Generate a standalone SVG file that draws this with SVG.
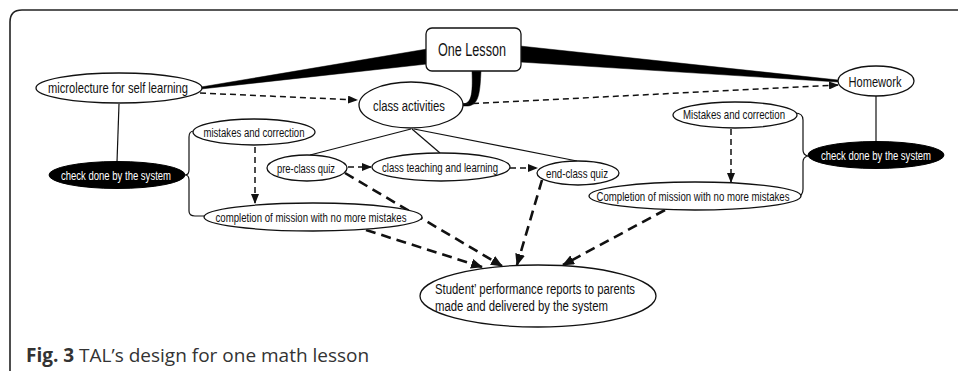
<svg xmlns="http://www.w3.org/2000/svg" width="958" height="371" viewBox="0 0 958 371">
<defs>
<style>
.nd{fill:#fff;stroke:#111;stroke-width:1.3}
.blk{fill:#000;stroke:#000;stroke-width:1}
.t{font-family:"Liberation Sans",Arial,sans-serif;fill:#111}
.w{font-family:"Liberation Sans",Arial,sans-serif;fill:#fff}
.ln{fill:none;stroke:#111;stroke-width:1.2}
.d1{fill:none;stroke:#111;stroke-width:1.5;stroke-dasharray:6 4}
.d2{fill:none;stroke:#111;stroke-width:2.6;stroke-dasharray:10 6}
.wedge{fill:#000;stroke:#000;stroke-width:0.5}
</style>
<marker id="a1" markerUnits="userSpaceOnUse" markerWidth="10" markerHeight="8" refX="9" refY="4" orient="auto">
<path d="M0,0 L10,4 L0,8 Z" fill="#111"/>
</marker>
<marker id="a2" markerUnits="userSpaceOnUse" markerWidth="12" markerHeight="10" refX="11" refY="5" orient="auto">
<path d="M0,0 L12,5 L0,10 Z" fill="#111"/>
</marker>
</defs>
<rect width="958" height="371" fill="#fff"/>
<path d="M10,372 V22 Q10,10 22,10 H958" fill="none" stroke="#222" stroke-width="1.6"/>

<g id="connectors">
<polygon class="wedge" points="427,49 427,64 201,89 201,87"/>
<polygon class="wedge" points="520,46 520,62 838,82 838,80"/>
<path class="wedge" d="M472,71 L481,71 C480,92 479,105 468,106 L463,106 L463,104 C471,103 473,96 472,71 Z"/>
<line class="ln" x1="119" y1="104" x2="117" y2="162"/>
<line class="ln" x1="876" y1="96" x2="876" y2="142"/>
<path class="ln" d="M194,131 Q189,131 189,137 V170 Q189,175 185,175 Q189,175 189,180 V211 Q189,216 195,216 H206"/>
<path class="ln" d="M795,113 Q803,113 803,120 V150 Q803,155 808,156 Q803,157 803,162 V189 Q803,196 797,197"/>
<line class="ln" x1="411" y1="129" x2="310" y2="155"/>
<line class="ln" x1="412" y1="129" x2="440" y2="153"/>
<line class="ln" x1="414" y1="129" x2="577" y2="161"/>
<line class="d1" x1="200" y1="93" x2="357" y2="100" marker-end="url(#a1)"/>
<line class="d1" x1="463" y1="104" x2="838" y2="85" marker-end="url(#a1)"/>
<line class="d1" x1="348" y1="167" x2="371" y2="167" marker-end="url(#a1)"/>
<line class="d1" x1="510" y1="168" x2="537" y2="168" marker-end="url(#a1)"/>
<line class="d1" x1="255" y1="147" x2="255" y2="203" marker-end="url(#a1)"/>
<line class="d1" x1="731" y1="129" x2="731" y2="182" marker-end="url(#a1)"/>
<line class="d2" x1="366" y1="230" x2="482" y2="267" marker-end="url(#a2)"/>
<line class="d2" x1="345" y1="173" x2="502" y2="266" marker-end="url(#a2)"/>
<line class="d2" x1="542" y1="180" x2="517" y2="265" marker-end="url(#a2)"/>
<line class="d2" x1="665" y1="210" x2="563" y2="265" marker-end="url(#a2)"/>
</g>

<g id="one-lesson">
<rect class="nd" x="426" y="28" width="95" height="43" rx="6"/>
<text class="t" x="472" y="56" font-size="18" text-anchor="middle" textLength="68" lengthAdjust="spacingAndGlyphs">One Lesson</text>
</g>
<g id="microlecture">
<ellipse class="nd" cx="119" cy="88" rx="83" ry="15"/>
<text class="t" x="118" y="93" font-size="14.5" text-anchor="middle" textLength="140" lengthAdjust="spacingAndGlyphs">microlecture for self learning</text>
</g>
<g id="class-activities">
<ellipse class="nd" cx="411" cy="105" rx="52" ry="23"/>
<text class="t" x="409" y="111" font-size="15.5" text-anchor="middle" textLength="72" lengthAdjust="spacingAndGlyphs">class activities</text>
</g>
<g id="homework">
<ellipse class="nd" cx="876" cy="81" rx="38" ry="15"/>
<text class="t" x="875" y="87" font-size="15.5" text-anchor="middle" textLength="53" lengthAdjust="spacingAndGlyphs">Homework</text>
</g>
<g id="check-left">
<ellipse class="blk" cx="117" cy="175" rx="68" ry="13.5"/>
<text class="w" x="116" y="179.5" font-size="12.5" text-anchor="middle" textLength="110" lengthAdjust="spacingAndGlyphs">check done by the system</text>
</g>
<g id="check-right">
<ellipse class="blk" cx="876" cy="155" rx="68" ry="13.5"/>
<text class="w" x="876" y="159.5" font-size="12.5" text-anchor="middle" textLength="110" lengthAdjust="spacingAndGlyphs">check done by the system</text>
</g>
<g id="mistakes-left">
<ellipse class="nd" cx="254" cy="132" rx="61" ry="13"/>
<text class="t" x="254" y="137" font-size="12.5" text-anchor="middle" textLength="101" lengthAdjust="spacingAndGlyphs">mistakes and correction</text>
</g>
<g id="mistakes-right">
<ellipse class="nd" cx="735" cy="115" rx="62" ry="13"/>
<text class="t" x="734" y="119" font-size="13" text-anchor="middle" textLength="102" lengthAdjust="spacingAndGlyphs">Mistakes and correction</text>
</g>
<g id="completion-left">
<ellipse class="nd" cx="313" cy="217" rx="109" ry="14"/>
<text class="t" x="311" y="222" font-size="13" text-anchor="middle" textLength="191" lengthAdjust="spacingAndGlyphs">completion of mission with no more mistakes</text>
</g>
<g id="completion-right">
<ellipse class="nd" cx="695" cy="196" rx="106" ry="14"/>
<text class="t" x="693" y="201" font-size="13" text-anchor="middle" textLength="193" lengthAdjust="spacingAndGlyphs">Completion of mission with no more mistakes</text>
</g>
<g id="pre-class-quiz">
<ellipse class="nd" cx="307" cy="168" rx="40" ry="13"/>
<text class="t" x="306" y="173" font-size="13" text-anchor="middle" textLength="58" lengthAdjust="spacingAndGlyphs">pre-class quiz</text>
</g>
<g id="class-teaching">
<ellipse class="nd" cx="441" cy="167" rx="69" ry="14"/>
<text class="t" x="440" y="172" font-size="13" text-anchor="middle" textLength="116" lengthAdjust="spacingAndGlyphs">class teaching and learning</text>
</g>
<g id="end-class-quiz">
<ellipse class="nd" cx="578" cy="173" rx="41" ry="12"/>
<text class="t" x="577" y="178" font-size="13" text-anchor="middle" textLength="62" lengthAdjust="spacingAndGlyphs">end-class quiz</text>
</g>
<g id="student-report">
<ellipse class="nd" cx="538" cy="296" rx="118" ry="31"/>
<text class="t" x="435" y="294" font-size="15.5" textLength="200" lengthAdjust="spacingAndGlyphs">Student’ performance reports to parents</text>
<text class="t" x="435" y="311" font-size="15.5" textLength="173" lengthAdjust="spacingAndGlyphs">made and delivered by the system</text>
</g>
<text x="26" y="362" font-family="'Open Sans','Noto Sans',sans-serif" font-size="19" fill="#333"><tspan font-weight="bold">Fig. 3</tspan> TAL’s design for one math lesson</text>
</svg>
